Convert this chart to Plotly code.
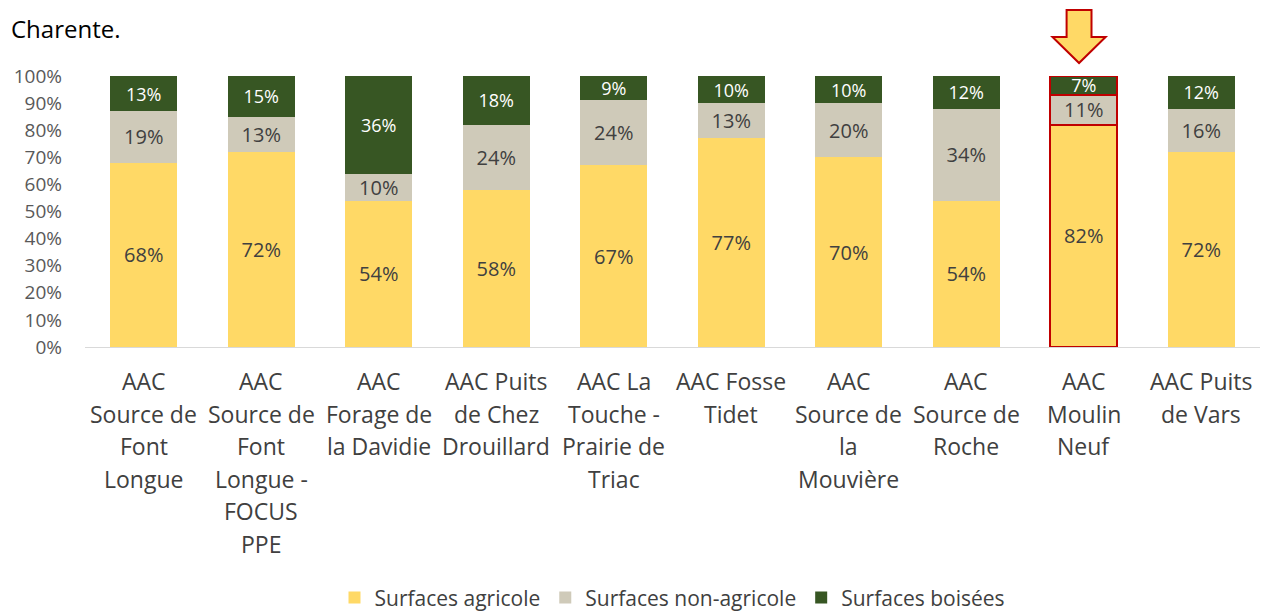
import plotly.graph_objects as go

categories = [
    "AAC<br>Source de<br>Font<br>Longue",
    "AAC<br>Source de<br>Font<br>Longue -<br>FOCUS<br>PPE",
    "AAC<br>Forage de<br>la Davidie",
    "AAC Puits<br>de Chez<br>Drouillard",
    "AAC La<br>Touche -<br>Prairie de<br>Triac",
    "AAC Fosse<br>Tidet",
    "AAC<br>Source de<br>la<br>Mouvière",
    "AAC<br>Source de<br>Roche",
    "AAC<br>Moulin<br>Neuf",
    "AAC Puits<br>de Vars",
]
agricole = [68, 72, 54, 58, 67, 77, 70, 54, 82, 72]
non_agricole = [19, 13, 10, 24, 24, 13, 20, 34, 11, 16]
boisees = [13, 15, 36, 18, 9, 10, 10, 12, 7, 12]
series_names = ["Surfaces agricole", "Surfaces non-agricole", "Surfaces boisées"]
highlight_index = 8

colors = ["#FFD966", "#CFCAB9", "#375623"]
text_colors = ["#404040", "#404040", "#FFFFFF"]
text_sizes = [20, 20, 18]
FONT = "Open Sans"

n = len(categories)
x_idx = list(range(n))
line_colors = ["#C00000" if i == highlight_index else "rgba(0,0,0,0)" for i in range(n)]
line_widths = [2 if i == highlight_index else 0 for i in range(n)]

fig = go.Figure()
for vals, name, col, tcol, tsz in zip([agricole, non_agricole, boisees], series_names, colors, text_colors, text_sizes):
    fig.add_trace(go.Bar(
        x=x_idx, y=vals, name=name,
        marker=dict(color=col, line=dict(color=line_colors, width=line_widths)),
        text=[f"{v}%" for v in vals],
        textposition="inside", insidetextanchor="middle",
        textfont=dict(color=tcol, size=tsz, family=FONT),
        constraintext="none",
        width=0.57,
    ))

# category labels as multi-line annotations (wider line spacing than tick labels)
LINE_STEP = 32.6
for i, lab in enumerate(categories):
    for k, line in enumerate(lab.split("<br>")):
        fig.add_annotation(text=line, x=i, xref="x", y=0, yref="paper",
                           xanchor="center", yanchor="middle",
                           yshift=-(34 + k * LINE_STEP), showarrow=False,
                           font=dict(family=FONT, size=23, color="#404040"))

# arrow above highlighted bar (paper coords derived from category index)
cx = (highlight_index + 0.5) / n - 0.004
hw, sw = 0.0226, 0.0106
y_top, y_base, y_tip = 1.2435, 1.1439, 1.048
path = (f"M {cx-sw},{y_top} L {cx+sw},{y_top} L {cx+sw},{y_base} L {cx+hw},{y_base} "
        f"L {cx},{y_tip} L {cx-hw},{y_base} L {cx-sw},{y_base} Z")
fig.add_shape(type="path", path=path, xref="paper", yref="paper",
              fillcolor="#FFD966", line=dict(color="#C00000", width=2), layer="above")

fig.add_annotation(text="Charente.", xref="paper", yref="paper",
                   x=-76 / 1175, y=1.244, xanchor="left", yanchor="top",
                   showarrow=False, font=dict(family=FONT, size=24, color="#000000"))

fig.update_layout(
    width=1260, height=604,
    margin=dict(l=77, r=8, t=68, b=265, autoexpand=False),
    barmode="stack", bargap=0.43,
    plot_bgcolor="white", paper_bgcolor="white",
    font=dict(family=FONT, color="#595959"),
    showlegend=True,
    legend=dict(orientation="h", x=0.5, xanchor="center", y=-0.926, yanchor="middle",
                font=dict(size=21, color="#404040", family=FONT), traceorder="normal",
                itemwidth=30, tracegroupgap=0),
    xaxis=dict(tickmode="array", tickvals=x_idx, showticklabels=False,
               range=[-0.5, n - 0.5], showgrid=False, showline=True,
               linecolor="#D9D9D9", linewidth=1, ticks=""),
    yaxis=dict(range=[0, 100], tickvals=list(range(0, 101, 10)),
               ticktext=[f"{v}%" for v in range(0, 101, 10)],
               showgrid=False, showline=False, zeroline=False, ticks="",
               ticklabelstandoff=22,
               tickfont=dict(size=19, color="#595959", family=FONT)),
)

fig.write_html("out.html")
